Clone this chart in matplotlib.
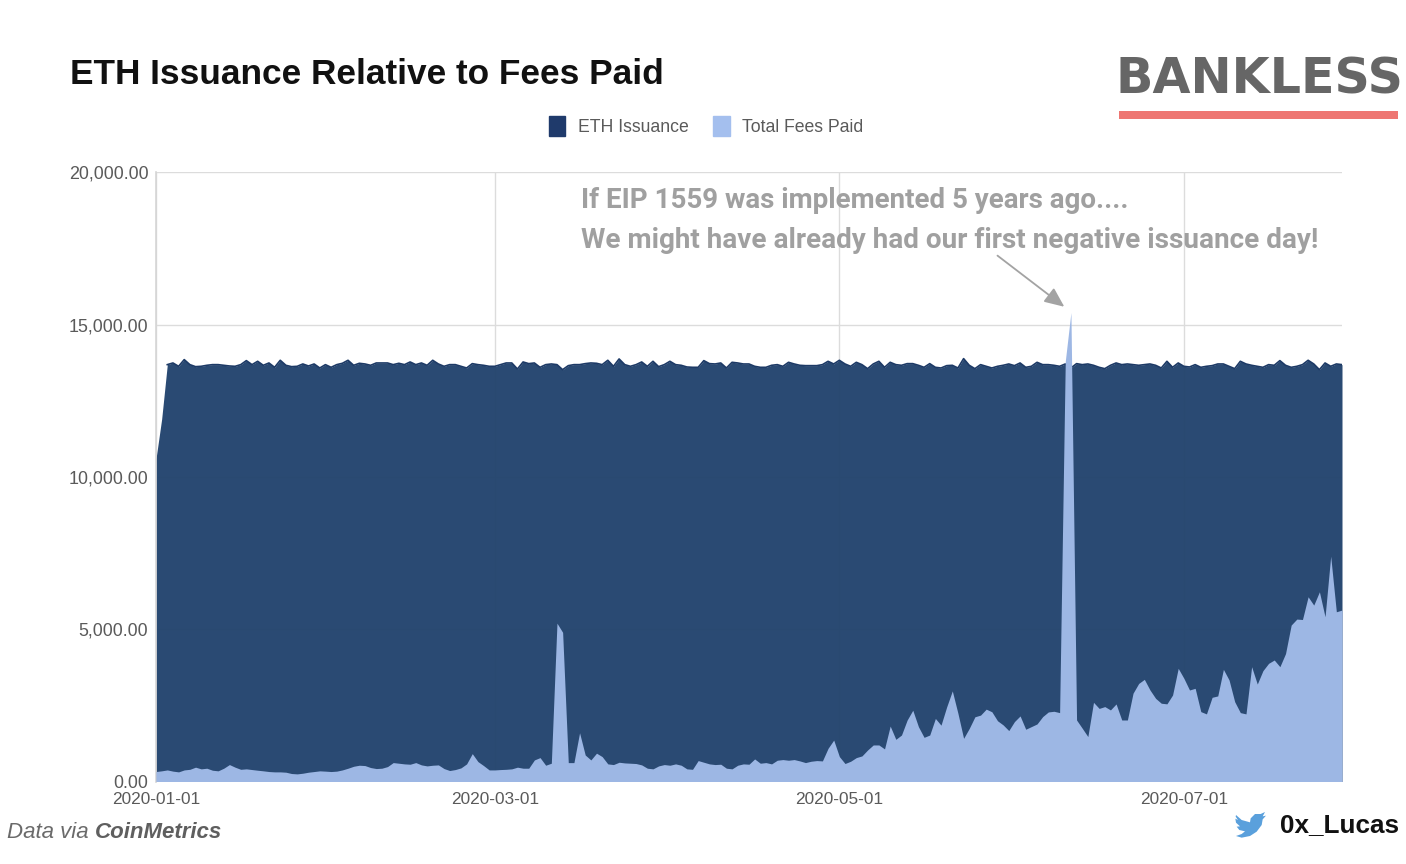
import numpy as np
import pandas as pd
import matplotlib
matplotlib.use("Agg")
import matplotlib.pyplot as plt
from matplotlib.patches import Patch, Polygon, Rectangle

# daily values
eth_issuance = [
    10600, 11900, 13690, 13745, 13635, 13855, 13690, 13624, 13635, 13668, 13690, 13690, 13668, 13646, 13635, 13690,
    13822, 13690, 13800, 13668, 13745, 13602, 13833, 13668, 13624, 13635, 13712, 13646, 13712, 13580, 13690, 13602,
    13690, 13734, 13833, 13668, 13734, 13712, 13668, 13745, 13745, 13745, 13690, 13734, 13690, 13778, 13690, 13745,
    13668, 13833, 13712, 13635, 13690, 13690, 13635, 13580, 13723, 13690, 13668, 13635, 13635, 13690, 13745, 13745,
    13547, 13778, 13723, 13745, 13602, 13690, 13712, 13690, 13525, 13657, 13690, 13690, 13723, 13745, 13734, 13690,
    13833, 13635, 13877, 13690, 13635, 13690, 13778, 13635, 13800, 13624, 13690, 13800, 13690, 13668, 13613, 13602,
    13602, 13822, 13723, 13712, 13745, 13580, 13767, 13745, 13712, 13712, 13635, 13602, 13602, 13668, 13690, 13635,
    13767, 13712, 13668, 13657, 13657, 13657, 13690, 13800, 13712, 13833, 13712, 13635, 13767, 13690, 13558, 13712,
    13800, 13602, 13767, 13690, 13668, 13723, 13723, 13668, 13602, 13723, 13602, 13580, 13657, 13668, 13580, 13888,
    13668, 13558, 13690, 13635, 13580, 13635, 13668, 13712, 13657, 13745, 13602, 13635, 13767, 13690, 13690, 13668,
    13635, 13712, 13580, 13723, 13690, 13712, 13668, 13602, 13558, 13668, 13745, 13690, 13712, 13690, 13668, 13690,
    13712, 13668, 13580, 13800, 13602, 13745, 13635, 13613, 13690, 13602, 13635, 13657, 13712, 13712, 13635, 13558,
    13800, 13712, 13668, 13635, 13602, 13690, 13668, 13822, 13668, 13602, 13635, 13690, 13833, 13712, 13525, 13745,
    13635, 13712, 13690,
]
total_fees = [
    327, 350, 380, 340, 316, 380, 400, 470, 415, 436, 370, 350, 436, 556, 470, 400,
    415, 392, 370, 350, 327, 316, 316, 305, 262, 250, 272, 305, 327, 350, 340, 327,
    340, 380, 436, 500, 534, 523, 458, 425, 436, 490, 621, 600, 578, 567, 621, 545,
    512, 534, 545, 425, 360, 392, 447, 578, 915, 654, 523, 380, 380, 392, 400, 415,
    470, 436, 436, 708, 785, 534, 600, 5200, 4900, 620, 620, 1600, 870, 708, 930, 818,
    578, 556, 632, 610, 600, 590, 545, 436, 415, 512, 556, 534, 578, 534, 415, 400,
    687, 632, 578, 556, 567, 436, 415, 534, 578, 567, 741, 600, 621, 578, 698, 720,
    698, 720, 676, 621, 665, 687, 676, 1090, 1360, 818, 590, 665, 785, 840, 1035, 1200,
    1200, 1070, 1820, 1385, 1526, 2017, 2340, 1800, 1450, 1526, 2070, 1850, 2450, 2975, 2235, 1417,
    1744, 2125, 2180, 2376, 2290, 1995, 1858, 1672, 1967, 2153, 1716, 1803, 1890, 2131, 2284, 2306,
    2262, 13800, 15400, 2020, 1750, 1475, 2600, 2400, 2460, 2350, 2547, 2020, 2020, 2900, 3220, 3355,
    3005, 2730, 2570, 2550, 2840, 3716, 3390, 3005, 3060, 2295, 2220, 2765, 2810, 3683, 3335, 2620,
    2262, 2220, 3770, 3200, 3640, 3880, 3990, 3770, 4200, 5137, 5334, 5320, 6066, 5793, 6230, 5410,
    7400, 5574, 5630,
]
assert len(eth_issuance) == len(total_fees)

y_ticks = [0, 5000, 10000, 15000, 20000]
x_ticks = ["2020-01-01", "2020-03-01", "2020-05-01", "2020-07-01"]

W, H = 1406, 864
SANS = "Liberation Sans"


def fx(px):
    return px / W


def fy(py):
    return 1 - py / H


dates = pd.date_range("2020-01-01", periods=len(eth_issuance), freq="D")

fig = plt.figure(figsize=(W / 100, H / 100), dpi=100, facecolor="white")
ax = fig.add_axes([fx(156), fy(781.5), (1342 - 156) / W, (781.5 - 172.5) / H])

ax.fill_between(dates, eth_issuance, color="#23446e", alpha=0.97, linewidth=0, zorder=2)
# outline only along the flat part, the ramp at the start has none
ax.plot(dates[2:], eth_issuance[2:], color="#1d3a66", lw=1.2, zorder=3)
ax.fill_between(dates, total_fees, color="#9db7e4", linewidth=0, zorder=4)

ax.set_xlim(dates[0], dates[-1])
ax.set_ylim(0, 20000)
ax.set_yticks(y_ticks)
ax.set_yticklabels([f"{v:,.2f}" for v in y_ticks], fontsize=12.9, color="#5a5a5a", family=SANS)
ax.set_xticks(pd.to_datetime(x_ticks))
ax.set_xticklabels(x_ticks, fontsize=12.4, color="#5a5a5a", family=SANS)
ax.tick_params(length=0)
ax.tick_params(axis="y", pad=5.5)
ax.tick_params(axis="x", pad=7.5)
ax.grid(True, color="#dcdcdc", lw=1.0, zorder=1)
ax.set_axisbelow(True)
for side in ["top", "right", "bottom"]:
    ax.spines[side].set_visible(False)
ax.spines["left"].set_color("#d5d5d5")
ax.spines["left"].set_linewidth(1.2)

handles = [Patch(color="#1f3a6b", label="ETH Issuance"), Patch(color="#a4bfee", label="Total Fees Paid")]
fig.legend(handles=handles, loc="center", bbox_to_anchor=(fx(706), fy(126)), ncol=2, frameon=False,
           prop={"family": SANS, "size": 12.7}, labelcolor="#5a5a5a", handlelength=0.95, handleheight=1.35,
           handletextpad=0.7, columnspacing=1.4)

fig.text(fx(70), fy(74.5), "ETH Issuance Relative to Fees Paid", family=SANS, weight="bold", fontsize=25.4,
         color="#111111", va="center")

# annotation over the plot
fig.text(fx(581), fy(200), "If EIP 1559 was implemented 5 years ago....", family="Roboto", weight="bold",
         fontsize=20, color="#a0a0a0", va="center")
fig.text(fx(581), fy(240), "We might have already had our first negative issuance day!", family="Roboto",
         weight="bold", fontsize=20.08, color="#a0a0a0", va="center")
ax.annotate("", xy=(dates[160] + pd.Timedelta(hours=20), 15590), xytext=(dates[149], 17270),
            arrowprops=dict(arrowstyle="-|>,head_length=0.8,head_width=0.35", color="#a3a3a3", lw=1.3,
                            mutation_scale=15, shrinkA=0, shrinkB=0))

# Bankless logo
fig.text(fx(1116), fy(80), "BANKLESS", family="DejaVu Sans", weight="bold", fontsize=35.4, color="#666666", va="center")
fig.add_artist(Rectangle((fx(1119), fy(119)), 279 / W, 8 / H, transform=fig.transFigure,
                         color="#ee7672", lw=0))

# footer
fig.text(fx(7), fy(833), "Data via", family=SANS, style="italic", fontsize=16, color="#6a6a6a", va="center")
fig.text(fx(95), fy(833), "CoinMetrics", family=SANS, style="italic", weight="bold", fontsize=16,
         color="#5f5f5f", va="center")
fig.text(fx(1280), fy(825), "0x_Lucas", family=SANS, weight="bold", fontsize=18.8, color="#111111", va="center")

bird = np.array([(108, 75), (125, 90), (150, 97), (152, 85), (165, 72), (182, 72), (195, 66), (188, 79),
                 (198, 77), (188, 88), (185, 105), (170, 125), (150, 138), (125, 143), (108, 138), (125, 132),
                 (135, 124), (118, 120), (110, 110), (120, 109), (108, 98), (106, 86), (114, 90), (107, 80)])
bird_xy = [(fx(1200 + x / 3), fy(790 + y / 3)) for x, y in bird]
fig.add_artist(Polygon(bird_xy, closed=True, transform=fig.transFigure, color="#5aa0dc", lw=0))

fig.savefig("out.png", dpi=100)
